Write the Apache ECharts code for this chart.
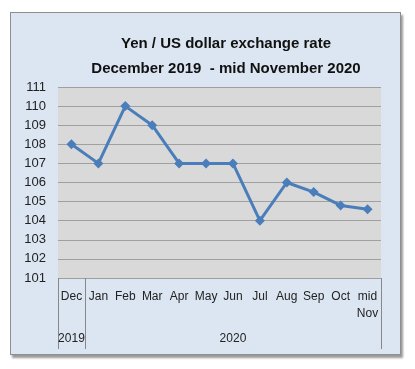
<!DOCTYPE html>
<html><head><meta charset="utf-8">
<script src="https://cdn.jsdelivr.net/npm/echarts@6/dist/echarts.min.js"></script>
<style>
html,body{margin:0;padding:0;background:#fff;}
#frame{position:absolute;left:10px;top:12px;width:389px;height:341px;background:#dce6f2;border:1px solid #8e8e8e;box-shadow:2px 3px 2px #9a9a9a;}
#c{position:absolute;left:0;top:0;width:415px;height:369px;}
</style></head>
<body>
<div id="frame"></div>
<div id="c"></div>
<script>
const titleLines = ['Yen / US dollar exchange rate', 'December 2019  - mid November 2020'];
const months = ['Dec','Jan','Feb','Mar','Apr','May','Jun','Jul','Aug','Sep','Oct','mid\nNov'];
const yearLabels = {0: '2019', 6: '2020'};
const rates = [108, 107, 110, 109, 107, 107, 107, 104, 106, 105.5, 104.8, 104.6];
const yMin = 101, yMax = 111, yStep = 1;

const chart = echarts.init(document.getElementById('c'));
chart.setOption({
  backgroundColor: 'transparent',
  title: {
    text: titleLines.join('\n'),
    left: 221, top: 26, textAlign: 'center',
    textStyle: {fontFamily: 'Liberation Sans', fontWeight: 'bold', fontSize: 15, color: '#111', lineHeight: 25}
  },
  grid: {left: 58, right: 34, top: 87, bottom: 91, show: true, backgroundColor: '#d9d9d9', borderWidth: 0},
  xAxis: [{
    type: 'category', data: months, boundaryGap: true,
    axisLine: {show: false},
    axisTick: {show: true, length: 71, interval: (i) => i === 0 || i === 1, lineStyle: {color: '#888', width: 1}},
    axisLabel: {interval: 0, margin: 16, fontFamily: 'Liberation Sans', fontSize: 12, color: '#222', lineHeight: 17, verticalAlign: 'top', padding: [-6,0,0,0]},
    splitLine: {show: false}
  }, {
    type: 'category', data: months, boundaryGap: true, position: 'bottom',
    axisLine: {show: false}, axisTick: {show: false},
    axisLabel: {interval: 0, margin: 55, fontFamily: 'Liberation Sans', fontSize: 12, color: '#222',
      formatter: (v, i) => yearLabels[i] || ''}
  }],
  yAxis: {
    type: 'value', min: yMin, max: yMax, interval: yStep,
    axisLine: {show: false}, axisTick: {show: false},
    axisLabel: {margin: 12, fontFamily: 'Liberation Sans', fontSize: 13, color: '#222'},
    splitLine: {show: true, lineStyle: {color: '#a0a0a0', width: 1}}
  },
  series: [{
    type: 'line', data: rates, xAxisIndex: 0,
    symbol: 'diamond', symbolSize: 10,
    lineStyle: {color: '#4a7ebb', width: 3},
    itemStyle: {color: '#4a7ebb'},
    animation: false
  }],
  animation: false
});
</script>
</body></html>
